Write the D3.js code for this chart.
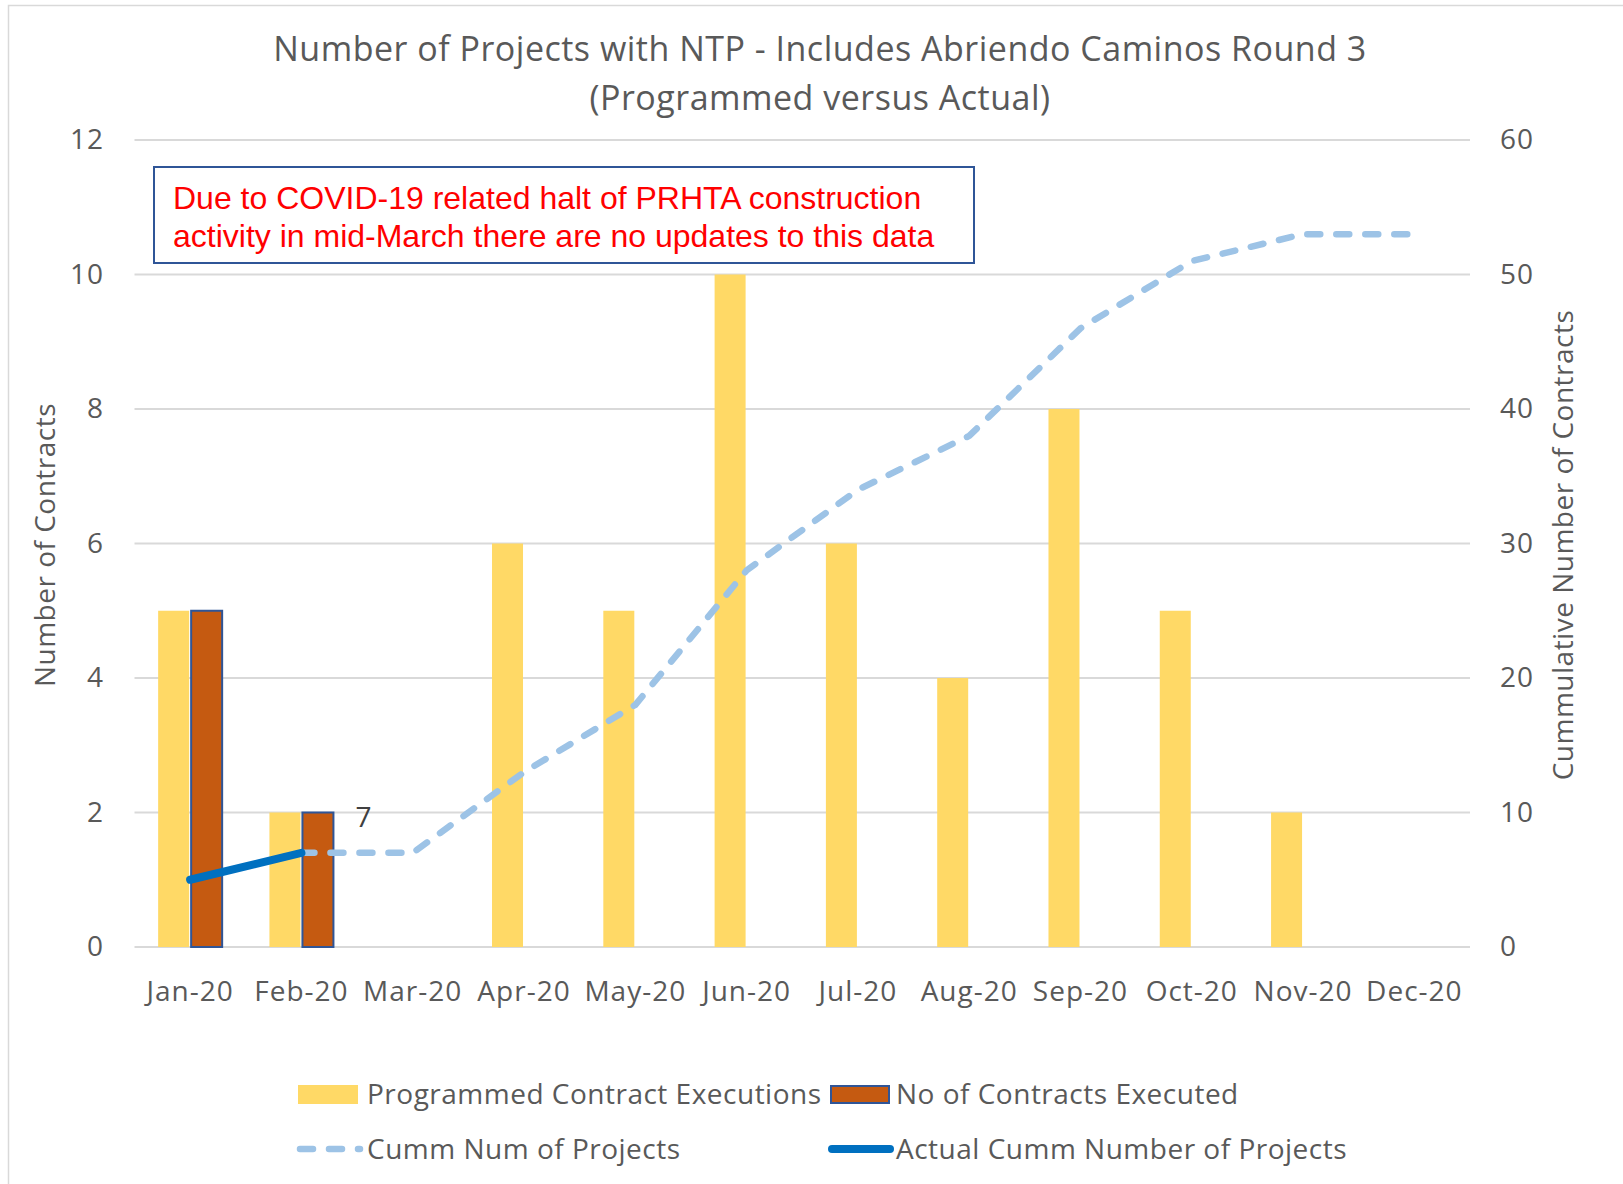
<!DOCTYPE html>
<html>
<head>
<meta charset="utf-8">
<script src="https://cdn.jsdelivr.net/npm/d3@7"></script>
<style>
  body { margin: 0; background: white; }
  text { font-family: "Open Sans", sans-serif; fill: #595959; }
</style>
</head>
<body>
<div id="container"></div>
<script>
/* CONSTANTS AND GLOBALS */
const width = 1623,
  height = 1184;
const plotLeft = 134.5,
  plotRight = 1470,
  plotTop = 140,
  plotBottom = 947;
const labelSize = "28px";

/* DATA */
const months = ["Jan-20", "Feb-20", "Mar-20", "Apr-20", "May-20", "Jun-20",
  "Jul-20", "Aug-20", "Sep-20", "Oct-20", "Nov-20", "Dec-20"];
const programmed = [5, 2, 0, 6, 5, 10, 6, 4, 8, 5, 2, 0];
const executed = [5, 2, null, null, null, null, null, null, null, null, null, null];
const cummProjects = [null, 7, 7, 13, 18, 28, 34, 38, 46, 51, 53, 53];
const actualCumm = [5, 7];
const leftTicks = [0, 2, 4, 6, 8, 10, 12];
const rightTicks = [0, 10, 20, 30, 40, 50, 60];

const svg = d3.select("#container")
  .append("svg")
  .attr("width", width)
  .attr("height", height)
  .style("background-color", "white");

// chart border
svg.append("rect")
  .attr("x", 8.5).attr("y", 5.5)
  .attr("width", width + 20).attr("height", height + 20)
  .attr("fill", "none")
  .attr("stroke", "#d9d9d9")
  .attr("stroke-width", 1.5);

/* SCALES */
const xScale = d3.scaleBand()
  .domain(months)
  .range([plotLeft, plotRight]);

const groupWidth = 64;
const xSub = d3.scaleBand()
  .domain(["programmed", "executed"])
  .range([0, groupWidth]);

const yLeft = d3.scaleLinear()
  .domain([0, 12])
  .range([plotBottom, plotTop]);

const yRight = d3.scaleLinear()
  .domain([0, 60])
  .range([plotBottom, plotTop]);

const cx = m => xScale(m) + xScale.bandwidth() / 2;

/* TITLE */
svg.append("text")
  .attr("x", 820).attr("y", 61)
  .attr("text-anchor", "middle")
  .style("font-size", "34px")
  .style("letter-spacing", "0.5px")
  .text("Number of Projects with NTP - Includes Abriendo Caminos Round 3");
svg.append("text")
  .attr("x", 820).attr("y", 110)
  .attr("text-anchor", "middle")
  .style("font-size", "34px")
  .style("letter-spacing", "0.5px")
  .text("(Programmed versus Actual)");

/* GRIDLINES */
svg.append("g")
  .selectAll("line")
  .data(leftTicks)
  .join("line")
  .attr("x1", plotLeft).attr("x2", plotRight)
  .attr("y1", d => yLeft(d)).attr("y2", d => yLeft(d))
  .attr("stroke", "#d9d9d9")
  .attr("stroke-width", 2);

/* AXES */
const styleTicks = g => g.selectAll("text")
  .style("font-size", labelSize)
  .style("letter-spacing", "1px")
  .attr("fill", "#595959");

const yAxisLeft = d3.axisLeft(yLeft).tickValues(leftTicks).tickSize(0).tickPadding(0);
svg.append("g")
  .attr("transform", `translate(104, 0)`)
  .call(yAxisLeft)
  .call(g => g.select(".domain").remove())
  .call(styleTicks);

const yAxisRight = d3.axisRight(yRight).tickValues(rightTicks).tickSize(0).tickPadding(0);
svg.append("g")
  .attr("transform", `translate(1500, 0)`)
  .call(yAxisRight)
  .call(g => g.select(".domain").remove())
  .call(styleTicks);

const xAxis = d3.axisBottom(xScale).tickSize(0).tickPadding(0);
svg.append("g")
  .attr("transform", `translate(0, 981)`)
  .call(xAxis)
  .call(g => g.select(".domain").remove())
  .call(styleTicks);

svg.append("text")
  .attr("transform", `translate(55, 545) rotate(-90)`)
  .attr("text-anchor", "middle")
  .style("font-size", labelSize)
  .style("letter-spacing", "0.5px")
  .text("Number of Contracts");

svg.append("text")
  .attr("transform", `translate(1573, 545) rotate(-90)`)
  .attr("text-anchor", "middle")
  .style("font-size", labelSize)
  .style("letter-spacing", "0.5px")
  .text("Cummulative Number of Contracts");

/* BARS */
const offset = (xScale.bandwidth() - groupWidth) / 2;

svg.append("g")
  .selectAll("rect")
  .data(months.map((m, i) => ({ m, v: programmed[i] })).filter(d => d.v > 0))
  .join("rect")
  .attr("x", d => xScale(d.m) + offset + xSub("programmed"))
  .attr("y", d => yLeft(d.v))
  .attr("width", xSub.bandwidth() - 1)
  .attr("height", d => yLeft(0) - yLeft(d.v))
  .attr("fill", "#ffd966");

svg.append("g")
  .selectAll("rect")
  .data(months.map((m, i) => ({ m, v: executed[i] })).filter(d => d.v != null))
  .join("rect")
  .attr("x", d => xScale(d.m) + offset + xSub("executed") + 1)
  .attr("y", d => yLeft(d.v))
  .attr("width", xSub.bandwidth() - 1)
  .attr("height", d => yLeft(0) - yLeft(d.v))
  .attr("fill", "#c55a11")
  .attr("stroke", "#2f5597")
  .attr("stroke-width", 2);

/* LINES */
const cummData = months.map((m, i) => ({ m, v: cummProjects[i] })).filter(d => d.v != null);
const line = d3.line()
  .x(d => cx(d.m))
  .y(d => yRight(d.v));

svg.append("path")
  .datum(cummData)
  .attr("d", line)
  .attr("fill", "none")
  .attr("stroke", "#9dc3e6")
  .attr("stroke-width", 6.5)
  .attr("stroke-dasharray", "13 16")
  .attr("stroke-linecap", "round")
  .attr("stroke-linejoin", "round");

const actualData = actualCumm.map((v, i) => ({ m: months[i], v }));
svg.append("path")
  .datum(actualData)
  .attr("d", line)
  .attr("fill", "none")
  .attr("stroke", "#0070c0")
  .attr("stroke-width", 8)
  .attr("stroke-linecap", "round");

// data label
const last = actualData[actualData.length - 1];
svg.append("text")
  .attr("x", cx(last.m) + 62)
  .attr("y", yRight(last.v) - 26)
  .attr("text-anchor", "middle")
  .style("font-size", labelSize)
  .style("fill", "#404040")
  .text(last.v);

/* ANNOTATION */
svg.append("rect")
  .attr("x", 154).attr("y", 167)
  .attr("width", 820).attr("height", 96)
  .attr("fill", "white")
  .attr("stroke", "#2f5597")
  .attr("stroke-width", 2);

svg.append("text")
  .attr("x", 173).attr("y", 209)
  .style("font-family", "'Liberation Sans', Arial, sans-serif")
  .style("font-size", "32px")
  .style("fill", "#ff0000")
  .text("Due to COVID-19 related halt of PRHTA construction");
svg.append("text")
  .attr("x", 173).attr("y", 247)
  .style("font-family", "'Liberation Sans', Arial, sans-serif")
  .style("font-size", "32px")
  .style("fill", "#ff0000")
  .text("activity in mid-March there are no updates to this data");

/* LEGEND */
const legend = svg.append("g")
  .style("font-size", labelSize)
  .style("letter-spacing", "0.5px");
legend.append("rect")
  .attr("x", 298).attr("y", 1085).attr("width", 60).attr("height", 19)
  .attr("fill", "#ffd966");
legend.append("text")
  .attr("x", 367).attr("y", 1104)
  .text("Programmed Contract Executions");

legend.append("rect")
  .attr("x", 831).attr("y", 1086).attr("width", 58).attr("height", 17)
  .attr("fill", "#c55a11")
  .attr("stroke", "#2f5597")
  .attr("stroke-width", 2);
legend.append("text")
  .attr("x", 896).attr("y", 1104)
  .text("No of Contracts Executed");

legend.append("line")
  .attr("x1", 300).attr("x2", 360).attr("y1", 1149).attr("y2", 1149)
  .attr("stroke", "#9dc3e6")
  .attr("stroke-width", 6.5)
  .attr("stroke-dasharray", "13 16")
  .attr("stroke-linecap", "round");
legend.append("text")
  .attr("x", 367).attr("y", 1159)
  .text("Cumm Num of Projects");

legend.append("line")
  .attr("x1", 832).attr("x2", 890).attr("y1", 1149).attr("y2", 1149)
  .attr("stroke", "#0070c0")
  .attr("stroke-width", 8)
  .attr("stroke-linecap", "round");
legend.append("text")
  .attr("x", 896).attr("y", 1159)
  .text("Actual Cumm Number of Projects");
</script>
</body>
</html>
